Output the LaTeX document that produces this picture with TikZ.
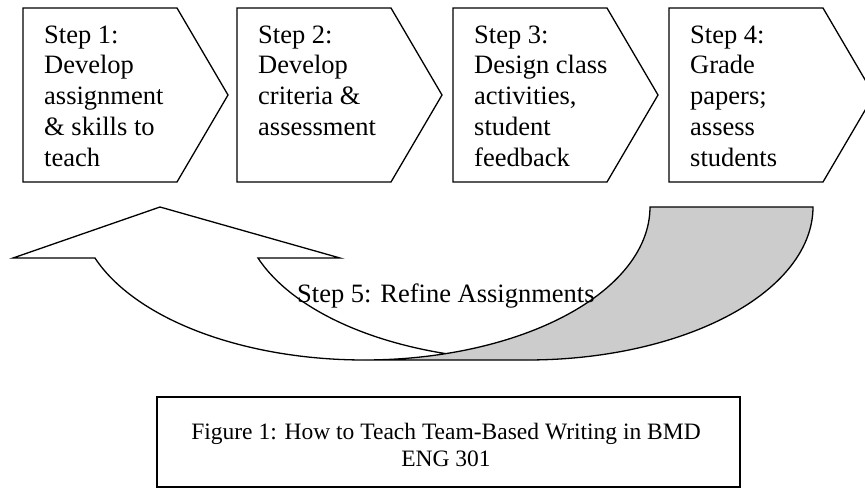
\documentclass[tikz,border=0pt]{standalone}
\usepackage{fontspec}
\setmainfont{Liberation Serif}
\begin{document}
\begin{tikzpicture}[x=1pt,y=-1pt,
  stepbox/.style={draw=black, line width=1.3pt, fill=white, line join=miter},
  steptext/.style={anchor=base west, inner sep=0pt, font=\fontsize{26.5}{30.6}\selectfont},
  captext/.style={anchor=base, inner sep=0pt, font=\fontsize{23.5}{27}\selectfont},
  outline/.style={draw=black, line width=1.3pt, line join=miter},
  backfill/.style={fill=black!20}]
\useasboundingbox (0,0) rectangle (865,488);
\fill[white] (0,0) rectangle (865,488);
\clip (0,0) rectangle (865,488);

% step pentagons
\foreach \L in {23,237,453,669}
  \draw[stepbox] (\L,8) -- (\L+154,8) -- (\L+205,95) -- (\L+154,182) -- (\L,182) -- cycle;

% step texts
\node[steptext] (s1a) at (44,43) {Step 1:};
\node[steptext] (s1b) at (44,73.75) {Develop};
\node[steptext] (s1c) at (44,104.5) {assignment};
\node[steptext] (s1d) at (44,135.25) {\& skills to};
\node[steptext] (s1e) at (44,166) {teach};

\node[steptext] (s2a) at (258,43) {Step 2:};
\node[steptext] (s2b) at (258,73.75) {Develop};
\node[steptext] (s2c) at (258,104.5) {criteria \&};
\node[steptext] (s2d) at (258,135.25) {assessment};

\node[steptext] (s3a) at (474,43) {Step 3:};
\node[steptext] (s3b) at (474,73.75) {Design class};
\node[steptext] (s3c) at (474,104.5) {activities,};
\node[steptext] (s3d) at (474,135.25) {student};
\node[steptext] (s3e) at (474,166) {feedback};

\node[steptext] (s4a) at (690,43) {Step 4:};
\node[steptext] (s4b) at (690,73.75) {Grade};
\node[steptext] (s4c) at (690,104.5) {papers;};
\node[steptext] (s4d) at (690,135.25) {assess};
\node[steptext] (s4e) at (690,166) {students};

% curved up arrow: ellipse A centre (364.3,207), ellipse B centre (527.3,207), rx 285.7, ry 153
\fill[backfill] plot[domain=0:90, samples=60, variable=\t] ({364.3+285.7*cos(\t)},{207+153*sin(\t)})
  -- plot[domain=90:0, samples=60, variable=\t] ({527.3+285.7*cos(\t)},{207+153*sin(\t)}) -- cycle;

\draw[outline] plot[domain=106.6:160.5, samples=50, variable=\t] ({527.3+285.7*cos(\t)},{207+153*sin(\t)})
  -- (340,258) -- (160,207) -- (13,258) -- (95,258)
  -- plot[domain=160.5:90, samples=60, variable=\t] ({364.3+285.7*cos(\t)},{207+153*sin(\t)})
  -- plot[domain=90:0, samples=60, variable=\t] ({527.3+285.7*cos(\t)},{207+153*sin(\t)})
  -- (650,207)
  -- plot[domain=0:90, samples=60, variable=\t] ({364.3+285.7*cos(\t)},{207+153*sin(\t)});

\node[steptext] (s5) at (297,302) {Step 5: Refine Assignments};

% caption box
\draw[outline] (157,397) rectangle (740,487);
\node[captext] (cap1) at (446,439) {Figure 1: How to Teach Team-Based Writing in BMD};
\node[captext] (cap2) at (446,466) {ENG 301};
\end{tikzpicture}
\end{document}
